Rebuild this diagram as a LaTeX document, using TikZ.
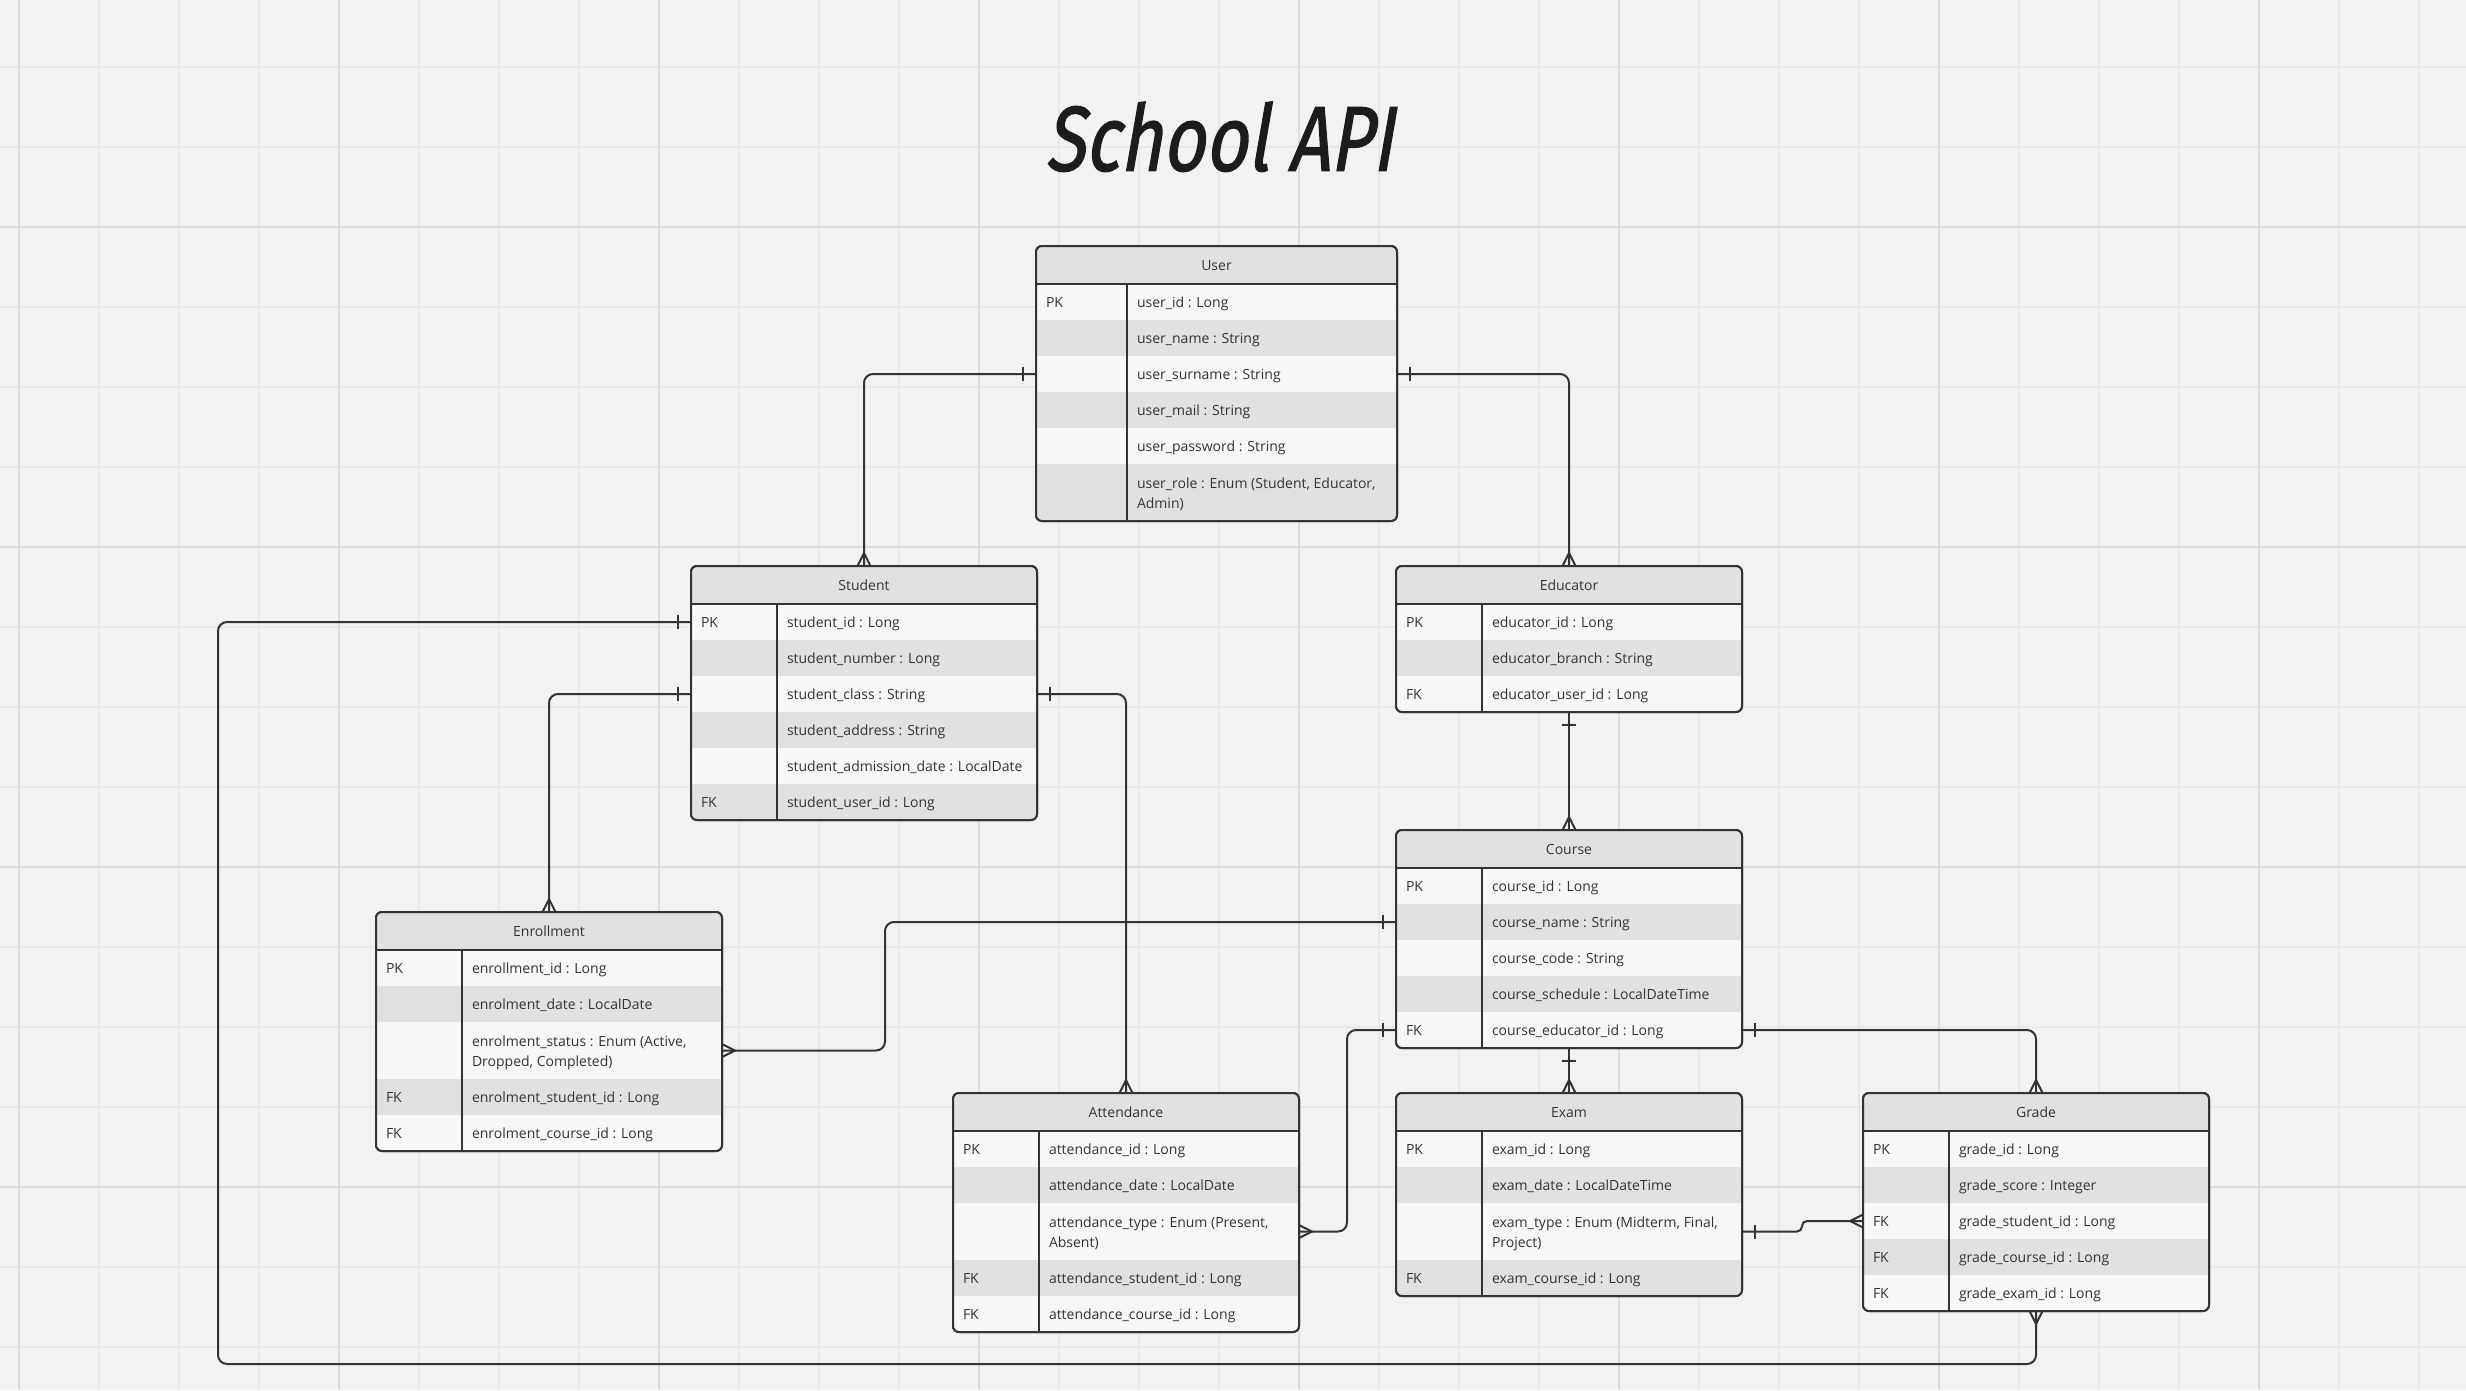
\documentclass[tikz,border=0pt]{standalone}
\usepackage{fontspec}
\setmainfont{Open Sans}
\newfontfamily\titlefont[FakeSlant=0.22, FakeBold=1.5]{Fira Sans}
\usepackage{graphicx}
\usetikzlibrary{arrows.meta,calc}

\definecolor{bgc}{HTML}{F2F2F2}
\definecolor{gridminor}{HTML}{E8E8E8}
\definecolor{gridmajor}{HTML}{DCDCDC}
\definecolor{rowwhite}{HTML}{F7F7F7}
\definecolor{rowgrey}{HTML}{E1E1E1}
\definecolor{ink}{HTML}{333333}
\definecolor{titleink}{HTML}{1C1C1C}

\pgfdeclarearrow{
  name = Crow,
  defaults = {length = 13pt, width = 13pt},
  parameters = {\the\pgfarrowlength,\the\pgfarrowwidth},
  setup code = {
    \pgfarrowssettipend{0pt}
    \pgfarrowssetlineend{0pt}
    \pgfarrowssetbackend{-\pgfarrowlength}
    \pgfarrowssetvisualbackend{-\pgfarrowlength}
    \pgfarrowshullpoint{0pt}{.5\pgfarrowwidth}
    \pgfarrowshullpoint{0pt}{-.5\pgfarrowwidth}
    \pgfarrowshullpoint{-\pgfarrowlength}{0pt}
    \pgfarrowssavethe\pgfarrowlength
    \pgfarrowssavethe\pgfarrowwidth
  },
  drawing code = {
    \pgfpathmoveto{\pgfqpoint{0pt}{.5\pgfarrowwidth}}
    \pgfpathlineto{\pgfqpoint{-\pgfarrowlength}{0pt}}
    \pgfpathlineto{\pgfqpoint{0pt}{-.5\pgfarrowwidth}}
    \pgfusepathqstroke
  }
}

\pgfdeclarearrow{
  name = One,
  defaults = {length = 13pt, width = 14pt},
  parameters = {\the\pgfarrowlength,\the\pgfarrowwidth},
  setup code = {
    \pgfarrowssettipend{0pt}
    \pgfarrowssetlineend{0pt}
    \pgfarrowssetbackend{-\pgfarrowlength}
    \pgfarrowssetvisualbackend{-\pgfarrowlength}
    \pgfarrowshullpoint{0pt}{0pt}
    \pgfarrowshullpoint{-\pgfarrowlength}{.5\pgfarrowwidth}
    \pgfarrowshullpoint{-\pgfarrowlength}{-.5\pgfarrowwidth}
    \pgfarrowssavethe\pgfarrowlength
    \pgfarrowssavethe\pgfarrowwidth
  },
  drawing code = {
    \pgfpathmoveto{\pgfqpoint{-\pgfarrowlength}{.5\pgfarrowwidth}}
    \pgfpathlineto{\pgfqpoint{-\pgfarrowlength}{-.5\pgfarrowwidth}}
    \pgfusepathqstroke
  }
}

\tikzset{
  tbl/.style={rectangle, rounded corners=6pt, fill=rowwhite, draw=ink, line width=2pt, inner sep=0pt, outer sep=0pt},
  rowcell/.style={rectangle, inner sep=0pt, outer sep=0pt, draw=none},
  whiterow/.style={fill=rowwhite},
  greyrow/.style={fill=rowgrey},
  hdrfill/.style={fill=rowgrey},
  txt/.style={inner sep=0pt, outer sep=0pt, text=ink, font=\fontsize{14}{20}\selectfont},
  hdrtext/.style={txt, anchor=base},
  keytext/.style={txt, anchor=base west},
  fieldtext/.style={txt, anchor=base west},
  fieldtwo/.style={txt, anchor=west, align=left},
  tline/.style={draw=ink, line width=2pt},
  conn/.style={draw=ink, line width=2pt, rounded corners=9pt},
  gminor/.style={draw=gridminor, line width=1.5pt},
  gmajor/.style={draw=gridmajor, line width=1.5pt},
}

% table start: name, left, top, width, key width, bottom, title
\newcommand\tablestart[7]{%
  \def\tN{#1}\def\tL{#2}\def\tT{#3}\def\tW{#4}\def\tK{#5}\def\tB{#6}%
  \node[tbl, minimum width=#4, minimum height={#6-#3}, anchor=north west] (#1) at (#2,#3) {};
  \begin{scope}
    \clip[rounded corners=6pt] (#2,#3) rectangle ({#2+#4},#6);
    \fill[hdrfill] (#2,#3) rectangle ({#2+#4},{#3+38});
  \end{scope}
  \node[hdrtext] (#1-title) at ({#2+#4/2},{#3+24.5}) {#7};
}
% row: index, top y, height, fill style, key, field
\newcommand\erow[6]{%
  \begin{scope}
    \clip[rounded corners=6pt] (\tL,\tT) rectangle ({\tL+\tW},\tB);
    \node[rowcell, #4, minimum width=\tW, minimum height=#3, anchor=north west] (\tN-#1) at (\tL,#2) {};
  \end{scope}
  \node[keytext] (\tN-#1k) at ({\tL+10},{#2+#3/2+5.5}) {#5};
  \node[fieldtext] (\tN-#1f) at ({\tL+\tK+10},{#2+#3/2+5.5}) {#6};
}
% two-line row: index, top y, height, fill style, key, field
\newcommand\erowtwo[6]{%
  \begin{scope}
    \clip[rounded corners=6pt] (\tL,\tT) rectangle ({\tL+\tW},\tB);
    \node[rowcell, #4, minimum width=\tW, minimum height=#3, anchor=north west] (\tN-#1) at (\tL,#2) {};
  \end{scope}
  \node[keytext] (\tN-#1k) at ({\tL+10},{#2+#3/2+5.5}) {#5};
  \node[fieldtwo] (\tN-#1f) at ({\tL+\tK+10},{#2+#3/2+2}) {#6};
}
\newcommand\tableend{%
  \draw[tline] (\tL,{\tT+38}) -- ({\tL+\tW},{\tT+38});
  \draw[tline] ({\tL+\tK},{\tT+38}) -- ({\tL+\tK},\tB);
  \draw[tline, rounded corners=6pt] (\tN.north west) rectangle (\tN.south east);
}

\begin{document}
\begin{tikzpicture}[x=1pt, y=-1pt]
\useasboundingbox (0,0) rectangle (2466,1390);
\fill[bgc] (0,0) rectangle (2466,1390);
\foreach \x in {19,99,...,2419} \draw[gminor] (\x,0) -- (\x,1390);
\foreach \y in {67,147,...,1347} \draw[gminor] (0,\y) -- (2466,\y);
\foreach \x in {19,339,...,2259} \draw[gmajor] (\x,0) -- (\x,1390);
\foreach \y in {227,547,...,1187} \draw[gmajor] (0,\y) -- (2466,\y);

% title
\node[anchor=south west, inner sep=0pt, text=titleink] (title) at (1045,172)
  {\resizebox{348pt}{69pt}{\titlefont School API}};

% ---- User
\tablestart{user}{1036}{246}{361}{91}{521}{User}
\erow{1}{284}{36}{whiterow}{PK}{user\_id : Long}
\erow{2}{320}{36}{greyrow}{}{user\_name : String}
\erow{3}{356}{36}{whiterow}{}{user\_surname : String}
\erow{4}{392}{36}{greyrow}{}{user\_mail : String}
\erow{5}{428}{36}{whiterow}{}{user\_password : String}
\erowtwo{6}{464}{57}{greyrow}{}{user\_role : Enum (Student, Educator,\\Admin)}
\tableend

% ---- Student
\tablestart{stu}{691}{566}{346}{86}{820}{Student}
\erow{1}{604}{36}{whiterow}{PK}{student\_id : Long}
\erow{2}{640}{36}{greyrow}{}{student\_number : Long}
\erow{3}{676}{36}{whiterow}{}{student\_class : String}
\erow{4}{712}{36}{greyrow}{}{student\_address : String}
\erow{5}{748}{36}{whiterow}{}{student\_admission\_date : LocalDate}
\erow{6}{784}{36}{greyrow}{FK}{student\_user\_id : Long}
\tableend

% ---- Educator
\tablestart{edu}{1396}{566}{346}{86}{712}{Educator}
\erow{1}{604}{36}{whiterow}{PK}{educator\_id : Long}
\erow{2}{640}{36}{greyrow}{}{educator\_branch : String}
\erow{3}{676}{36}{whiterow}{FK}{educator\_user\_id : Long}
\tableend

% ---- Course
\tablestart{course}{1396}{830}{346}{86}{1048}{Course}
\erow{1}{868}{36}{whiterow}{PK}{course\_id : Long}
\erow{2}{904}{36}{greyrow}{}{course\_name : String}
\erow{3}{940}{36}{whiterow}{}{course\_code : String}
\erow{4}{976}{36}{greyrow}{}{course\_schedule : LocalDateTime}
\erow{5}{1012}{36}{whiterow}{FK}{course\_educator\_id : Long}
\tableend

% ---- Enrollment
\tablestart{enr}{376}{912}{346}{86}{1151}{Enrollment}
\erow{1}{950}{36}{whiterow}{PK}{enrollment\_id : Long}
\erow{2}{986}{36}{greyrow}{}{enrolment\_date : LocalDate}
\erowtwo{3}{1022}{57}{whiterow}{}{enrolment\_status : Enum (Active,\\Dropped, Completed)}
\erow{4}{1079}{36}{greyrow}{FK}{enrolment\_student\_id : Long}
\erow{5}{1115}{36}{whiterow}{FK}{enrolment\_course\_id : Long}
\tableend

% ---- Attendance
\tablestart{att}{953}{1093}{346}{86}{1332}{Attendance}
\erow{1}{1131}{36}{whiterow}{PK}{attendance\_id : Long}
\erow{2}{1167}{36}{greyrow}{}{attendance\_date : LocalDate}
\erowtwo{3}{1203}{57}{whiterow}{}{attendance\_type : Enum (Present,\\Absent)}
\erow{4}{1260}{36}{greyrow}{FK}{attendance\_student\_id : Long}
\erow{5}{1296}{36}{whiterow}{FK}{attendance\_course\_id : Long}
\tableend

% ---- Exam
\tablestart{exam}{1396}{1093}{346}{86}{1296}{Exam}
\erow{1}{1131}{36}{whiterow}{PK}{exam\_id : Long}
\erow{2}{1167}{36}{greyrow}{}{exam\_date : LocalDateTime}
\erowtwo{3}{1203}{57}{whiterow}{}{exam\_type : Enum (Midterm, Final,\\Project)}
\erow{4}{1260}{36}{greyrow}{FK}{exam\_course\_id : Long}
\tableend

% ---- Grade
\tablestart{grade}{1863}{1093}{346}{86}{1311}{Grade}
\erow{1}{1131}{36}{whiterow}{PK}{grade\_id : Long}
\erow{2}{1167}{36}{greyrow}{}{grade\_score : Integer}
\erow{3}{1203}{36}{whiterow}{FK}{grade\_student\_id : Long}
\erow{4}{1239}{36}{greyrow}{FK}{grade\_course\_id : Long}
\erow{5}{1275}{36}{whiterow}{FK}{grade\_exam\_id : Long}
\tableend

% ---- bend points
\coordinate (bendA) at (218,1364);
\coordinate (bendB) at (885,1000);
\coordinate (bendC) at (1347,1100);
\coordinate (jogX) at (1802,1225);

% ---- connectors
\draw[conn,{One}-{Crow}] (user-3.west) -| (stu.north);
\draw[conn,{One}-{Crow}] (user-3.east) -| (edu.north);
\draw[conn,{One}-{Crow}] (edu.south) -- (course.north);
\draw[conn,{One}-{Crow}] (stu-1.west) -| (bendA) -| (grade.south);
\draw[conn,{One}-{Crow}] (stu-3.west) -| (enr.north);
\draw[conn,{One}-{Crow}] (stu-3.east) -| (att.north);
\draw[conn,{One}-{Crow}] (course-2.west) -- (course-2.west -| bendB) |- (enr-3.east);
\draw[conn,{One}-{Crow}] (course-5.west) -- (course-5.west -| bendC) |- (att-3.east);
\draw[conn,{One}-{Crow}] (course.south) -- (exam.north);
\draw[conn,{One}-{Crow}] (course-5.east) -| (grade.north);
\draw[conn,{One}-{Crow},rounded corners=5pt] (exam-3.east) -- (exam-3.east -| jogX) |- (grade-3.west);
\end{tikzpicture}
\end{document}
